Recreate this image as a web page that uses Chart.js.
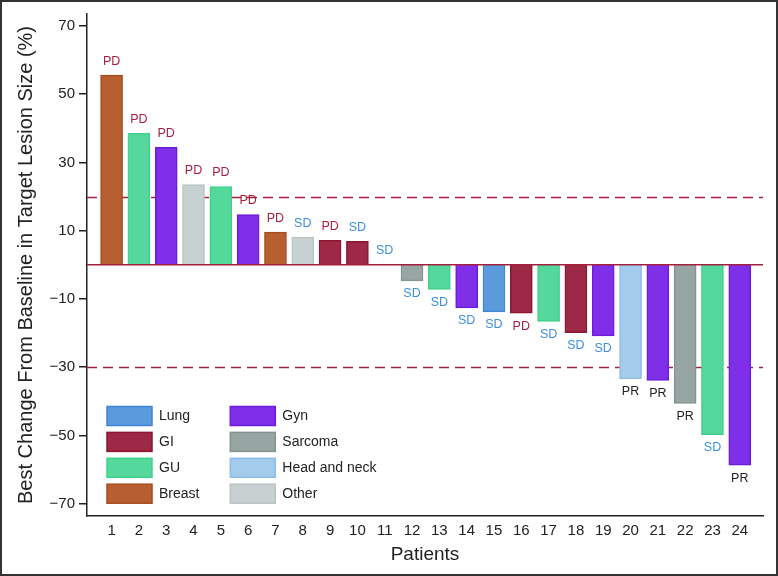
<!DOCTYPE html>
<html><head><meta charset="utf-8">
<script src="https://cdn.jsdelivr.net/npm/chart.js@4.4.1/dist/chart.umd.min.js"></script>
<style>html,body{margin:0;padding:0;background:#fff}#wrap{width:778px;height:576px;position:relative}</style>
</head><body><div id="wrap"><canvas id="c" width="778" height="576"></canvas></div>
<script>
// ---- data ----
const patients = [1,2,3,4,5,6,7,8,9,10,11,12,13,14,15,16,17,18,19,20,21,22,23,24];
const changes = [55.6,38.5,34.4,23.5,22.9,14.7,9.6,8.1,7.2,6.9,0,-4.7,-7.2,-12.6,-13.8,-14.2,-16.6,-19.9,-20.8,-33.4,-33.9,-40.6,-49.8,-58.7];
const tumorTypes = ['Breast','GU','Gyn','Other','GU','Gyn','Breast','Other','GI','GI','Other','Sarcoma','GU','Gyn','Lung','GI','GU','GI','Gyn','Head and neck','Gyn','Sarcoma','GU','Gyn'];
const responses = ['PD','PD','PD','PD','PD','PD','PD','SD','PD','SD','SD','SD','SD','SD','SD','PD','SD','SD','SD','PR','PR','PR','SD','PR'];
const legendTypes = ['Lung','GI','GU','Breast','Gyn','Sarcoma','Head and neck','Other'];
const yTicks = [-70,-50,-30,-10,10,30,50,70];
const thresholds = [20,-30];
const xTitle = 'Patients';
const yTitle = 'Best Change From Baseline in Target Lesion Size (%)';

// ---- styles ----
const typeColors = {
  'Lung':{fill:'#5b9bdb',border:'#3f85d6'},
  'GI':{fill:'#9d2946',border:'#8c1531'},
  'GU':{fill:'#55d89b',border:'#3fd18b'},
  'Breast':{fill:'#b75f30',border:'#a94b1c'},
  'Gyn':{fill:'#7f2fe8',border:'#6b1ddb'},
  'Sarcoma':{fill:'#97a6a3',border:'#84938f'},
  'Head and neck':{fill:'#a3cbeb',border:'#8fbde6'},
  'Other':{fill:'#c8d1d1',border:'#b9c3c3'}
};
const respColors = {PD:'#a51f3d', SD:'#3d8fe0', PR:'#222222'};
const FONT = "'Liberation Sans', Arial, sans-serif";
const REF = '#a3203f';

const overlay = {
  id:'overlay',
  beforeDatasetsDraw(chart){
    const {ctx, chartArea:a, scales:{y}} = chart;
    ctx.save();
    ctx.strokeStyle = REF; ctx.lineWidth = 1.5; ctx.setLineDash([10,6]);
    thresholds.forEach(v=>{
      const py = Math.round(y.getPixelForValue(v))+0.5;
      ctx.beginPath(); ctx.moveTo(a.left, py); ctx.lineTo(a.right, py); ctx.stroke();
    });
    ctx.restore();
  },
  afterDatasetsDraw(chart){
    const {ctx, chartArea:a, scales:{y}} = chart;
    ctx.save();
    const p0 = y.getPixelForValue(0);
    ctx.strokeStyle = REF; ctx.lineWidth = 1.5;
    ctx.beginPath(); ctx.moveTo(a.left, p0); ctx.lineTo(a.right, p0); ctx.stroke();
    // response labels
    const meta = chart.getDatasetMeta(0);
    ctx.font = '12.5px ' + FONT; ctx.textAlign = 'center'; ctx.textBaseline = 'middle';
    meta.data.forEach((bar,i)=>{
      const v = changes[i];
      const ly = v >= 0 ? bar.y - 14 : bar.y + 13;
      ctx.fillStyle = respColors[responses[i]];
      ctx.fillText(responses[i], bar.x, ly);
    });
    // legend
    const bx0 = a.left + 20, by0 = a.bottom - 109.5, bw = 45, bh = 19, rowH = 25.9, colW = 123.3;
    ctx.font = '14px ' + FONT; ctx.textAlign = 'left';
    legendTypes.forEach((t,k)=>{
      const col = Math.floor(k/4), row = k%4;
      const x = bx0 + col*colW, yy = by0 + row*rowH;
      ctx.fillStyle = typeColors[t].fill; ctx.fillRect(x, yy, bw, bh);
      ctx.strokeStyle = typeColors[t].border; ctx.lineWidth = 1.5; ctx.strokeRect(x, yy, bw, bh);
      ctx.fillStyle = '#222'; ctx.fillText(t, x + bw + 7, yy + bh/2 + 0.5);
    });
    ctx.restore();
  },
  afterDraw(chart){
    const ctx = chart.ctx;
    ctx.save(); ctx.strokeStyle = '#333'; ctx.lineWidth = 2;
    ctx.strokeRect(1,1,chart.width-2,chart.height-2); ctx.restore();
  }
};

new Chart(document.getElementById('c'), {
  type:'bar',
  data:{
    datasets:[{
      data: patients.map((p,i)=>({x:p, y:changes[i]})),
      backgroundColor: tumorTypes.map(t=>typeColors[t].fill),
      borderColor: tumorTypes.map(t=>typeColors[t].border),
      borderWidth: 1.5,
      barThickness: 22
    }]
  },
  options:{
    responsive:false, animation:false, devicePixelRatio:1,
    layout:{padding:{top:14,right:15,left:0,bottom:0}},
    plugins:{legend:{display:false}, tooltip:{enabled:false}},
    scales:{
      x:{
        type:'linear', min:0.1, max:24.85, offset:false,
        afterBuildTicks: s=>{ s.ticks = patients.map(v=>({value:v})); },
        grid:{display:false, drawTicks:false, offset:false},
        border:{display:true, color:'#222', width:1.5},
        ticks:{font:{size:15, family:FONT}, color:'#222', padding:6, maxRotation:0, autoSkip:false},
        title:{display:true, text:xTitle, font:{size:19, family:FONT}, color:'#222', padding:{top:0,bottom:10}},
        afterFit: s=>{ s.height = 60; }
      },
      y:{
        min:-73.6, max:73.5,
        afterBuildTicks: s=>{ s.ticks = yTicks.map(v=>({value:v})); },
        grid:{drawOnChartArea:false, drawTicks:true, tickLength:8, color:'#222', lineWidth:1.5},
        border:{display:true, color:'#222', width:1.5},
        ticks:{font:{size:15, family:FONT}, color:'#222', padding:4, callback: v=>String(v).replace('-','\u2212')},
        title:{display:true, text:yTitle, font:{size:20, family:FONT}, color:'#222', padding:{top:14,bottom:0}},
        afterFit: s=>{ s.width = 87; }
      }
    }
  },
  plugins:[overlay]
});
</script></body></html>
